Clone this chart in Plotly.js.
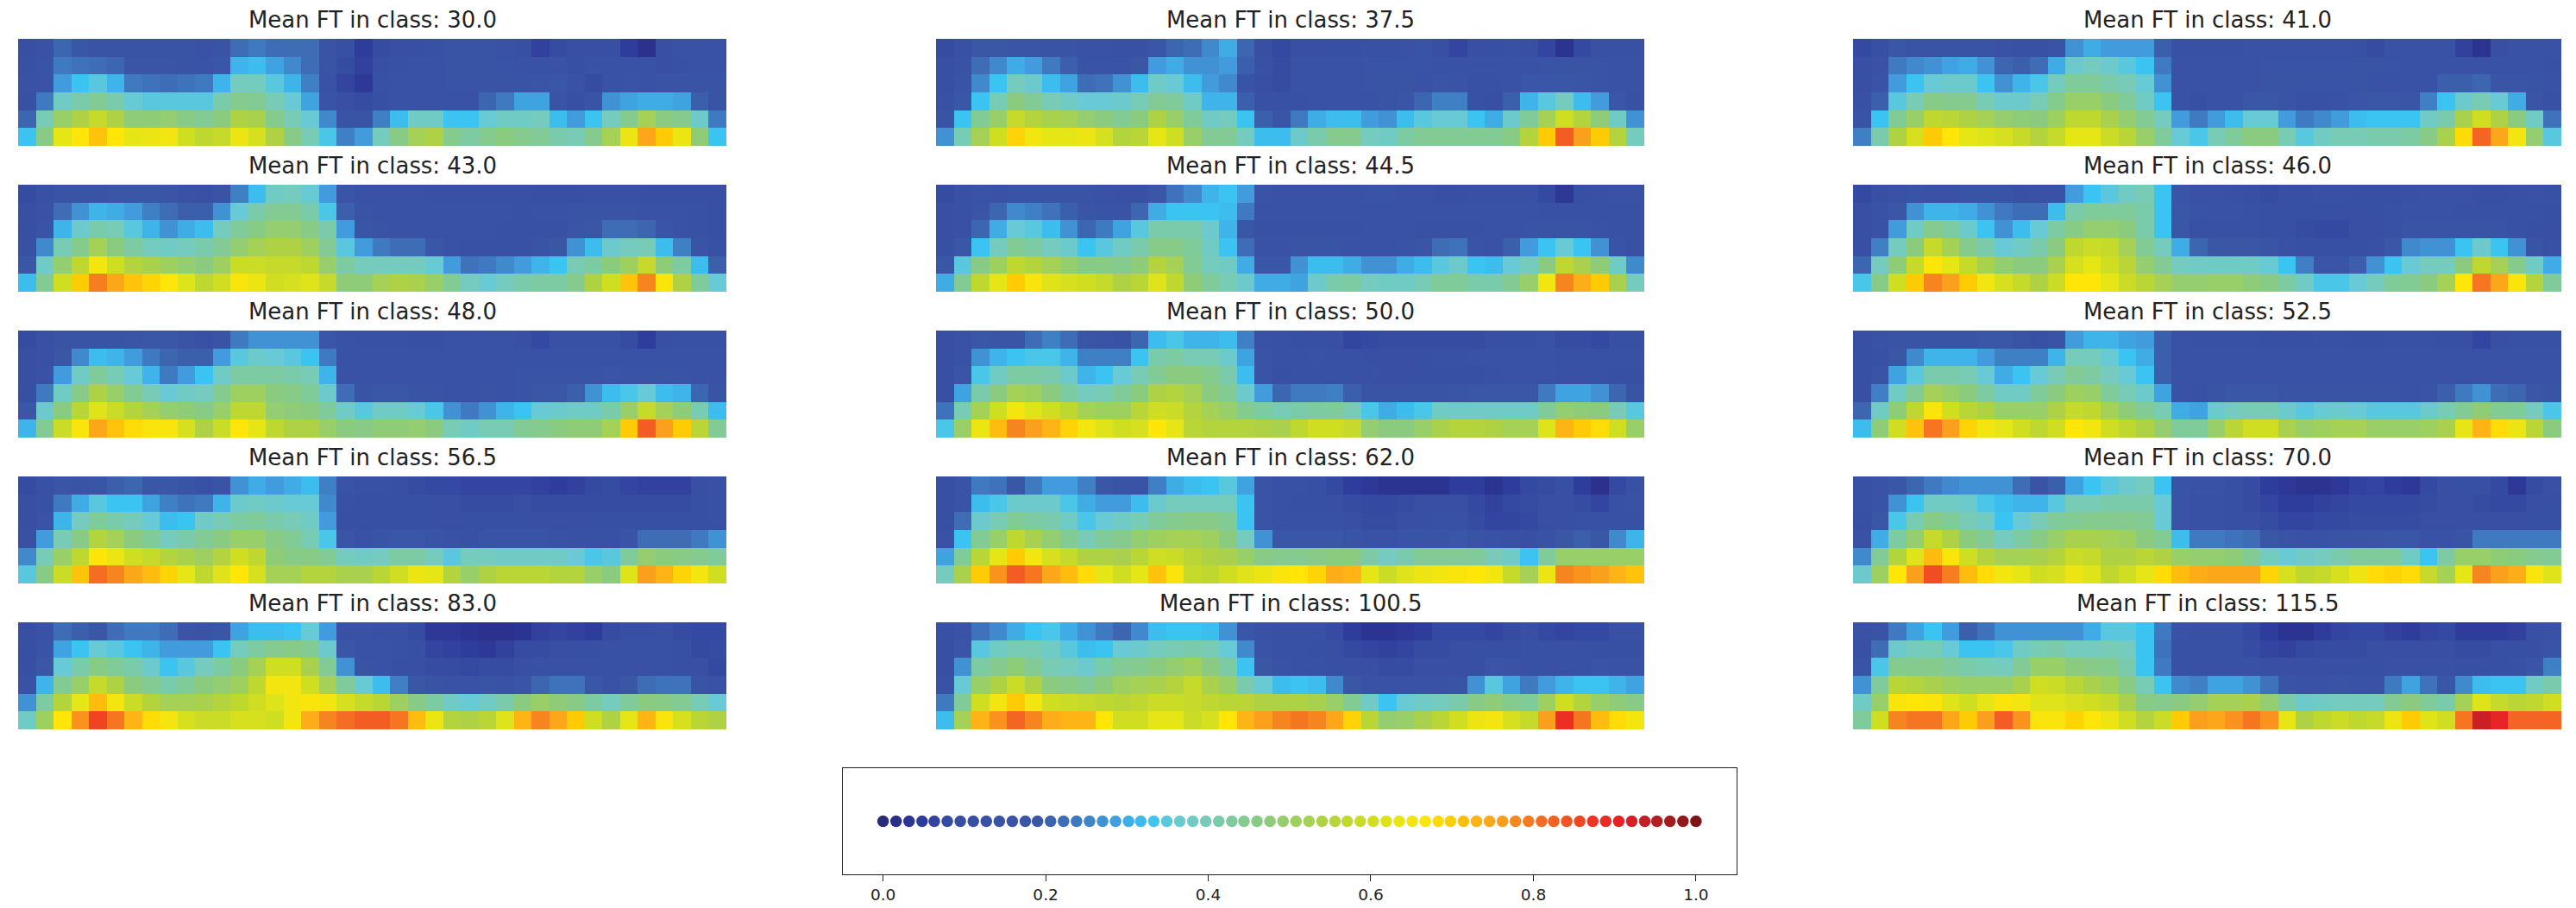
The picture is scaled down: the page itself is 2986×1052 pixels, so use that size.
<!DOCTYPE html>
<html><head><meta charset="utf-8">
<script src="https://cdn.plot.ly/plotly-3.0.1.min.js"></script>
<style>html,body{margin:0;padding:0;background:#fff}#chart{width:2986px;height:1052px}</style>
</head><body><div id="chart"></div>
<script>
const classLabels = ["30.0","37.5","41.0","43.0","44.5","46.0","48.0","50.0","52.5","56.5","62.0","70.0","83.0","100.5","115.5"];
const ft30 = [
[10,13,21,18,15,15,16,16,16,14,13,14,22,24,22,22,22,14,11,5,9,10,11,12,14,16,16,13,11,6,9,10,10,10,5,2,10,13,13,13],
[12,14,24,23,22,21,17,17,17,15,15,18,31,32,29,26,22,14,9,6,11,12,13,13,14,15,15,14,13,13,13,11,13,13,13,13,10,12,13,13],
[13,16,28,33,35,31,24,23,22,23,24,31,39,39,35,31,25,13,7,4,12,13,13,13,14,14,14,14,16,17,18,13,9,13,15,13,14,14,14,14],
[12,24,38,41,44,41,36,35,35,35,35,41,45,44,40,36,29,15,10,9,11,13,13,13,13,13,21,24,29,29,14,11,15,27,29,30,30,29,20,14],
[21,40,50,54,58,54,48,48,49,46,44,47,54,53,45,40,36,26,14,14,25,32,38,38,33,33,36,38,38,39,32,28,33,39,45,52,47,45,37,24],
[33,46,63,67,71,67,63,64,65,60,57,58,64,61,54,46,40,34,25,28,39,46,52,54,45,42,45,47,45,44,41,40,45,52,64,75,70,64,48,33]];
const ft37_5 = [
[9,12,19,19,17,17,16,15,13,13,12,12,18,21,22,26,30,21,10,8,10,10,11,11,12,12,13,14,10,7,10,11,12,10,7,3,8,12,12,12],
[11,13,22,26,30,28,24,20,16,16,16,19,28,30,27,27,28,20,12,9,13,13,13,13,14,15,15,14,13,13,13,13,13,13,14,14,14,14,13,13],
[11,14,26,33,39,37,32,29,22,23,27,32,38,36,32,28,26,15,11,9,13,13,13,13,14,14,14,13,17,15,12,12,13,18,18,18,17,15,13,13],
[12,19,33,40,47,44,40,38,36,36,37,40,44,43,38,31,31,20,12,12,12,13,13,13,13,14,17,21,25,25,12,11,20,31,35,39,32,28,18,12],
[16,33,44,50,58,55,53,52,49,47,44,47,54,50,43,38,39,33,20,17,24,30,32,32,28,27,32,35,36,36,33,30,37,43,52,60,55,48,38,27],
[27,40,52,60,69,65,63,63,64,61,55,56,63,60,50,44,44,39,32,32,37,41,45,45,39,38,42,44,44,44,44,44,46,55,70,83,76,70,55,39]];
const ft41 = [
[8,11,18,16,15,14,16,15,13,12,12,14,27,30,28,28,28,20,12,12,12,12,13,13,13,13,13,13,12,9,13,13,13,13,6,3,10,13,13,13],
[10,13,24,26,27,29,30,27,21,20,22,30,37,39,37,35,33,24,13,13,13,13,13,14,14,14,14,14,14,14,14,13,13,13,13,13,13,13,13,12],
[11,14,28,33,36,37,37,33,27,31,34,39,43,43,41,40,36,27,13,13,13,13,13,14,14,14,14,14,14,13,13,13,13,20,20,21,17,17,14,13],
[12,20,35,40,46,45,45,40,37,37,40,45,50,50,47,43,38,33,13,11,13,13,18,18,14,12,12,13,17,19,18,17,25,33,37,40,36,30,17,12],
[15,33,44,50,57,56,54,52,49,48,47,51,57,57,53,49,44,39,28,24,28,32,36,36,28,24,26,28,32,33,33,33,38,41,53,60,54,47,38,23],
[25,41,54,61,70,67,63,62,61,58,55,58,63,63,59,56,50,43,36,34,40,43,47,47,40,35,38,40,40,41,41,42,46,53,68,82,75,65,49,35]];
const ft43 = [
[9,12,15,15,16,18,18,18,17,13,12,14,25,32,38,39,36,28,17,13,13,13,13,12,12,12,12,12,12,11,11,11,12,12,12,11,11,11,11,10],
[10,13,22,27,31,30,28,25,22,20,20,27,36,41,44,44,41,34,20,14,13,13,13,13,13,13,13,13,12,13,13,15,14,14,14,13,13,13,12,11],
[11,15,31,37,41,40,35,31,27,30,32,39,43,46,49,49,46,41,28,17,14,13,13,13,13,13,13,12,12,12,12,17,19,22,22,21,17,13,12,11],
[12,26,40,45,52,47,42,39,38,39,41,44,49,52,54,54,51,44,35,28,24,22,22,18,13,12,12,12,12,14,19,27,32,37,39,40,32,25,14,12],
[19,38,49,57,65,60,55,53,51,49,47,51,59,59,58,58,57,50,42,39,39,39,39,36,28,23,24,26,28,31,33,40,42,47,51,58,48,42,32,20],
[32,44,60,70,79,75,71,69,67,62,57,60,66,64,60,61,62,58,48,48,52,54,53,50,44,39,36,39,41,42,42,45,54,60,71,78,66,54,43,36]];
const ft44_5 = [
[9,12,14,13,15,15,15,15,15,13,12,12,18,23,26,31,33,28,14,13,13,13,13,13,14,14,13,13,10,10,12,12,12,12,8,4,11,12,13,13],
[10,12,17,21,26,25,23,20,17,15,15,21,30,33,33,33,32,24,13,13,13,13,13,13,13,13,13,13,13,13,13,13,13,13,12,12,12,12,12,12],
[10,12,21,30,36,35,32,27,21,24,29,35,41,41,41,37,31,19,12,12,12,12,12,12,13,13,13,12,12,12,12,13,13,15,16,16,15,13,12,12],
[11,19,33,39,44,42,39,37,33,35,38,41,46,46,43,38,33,22,13,13,14,15,15,13,13,13,14,17,22,23,15,13,20,28,33,36,33,27,15,12],
[18,35,46,51,57,55,52,49,46,46,45,48,55,52,44,39,38,30,19,18,27,32,32,30,27,27,30,32,35,37,33,32,36,39,47,57,53,48,38,26],
[30,44,57,63,70,66,62,61,60,58,54,56,62,57,48,43,40,37,30,30,29,37,41,42,39,38,38,40,43,43,41,41,44,50,65,78,74,70,53,39]];
const ft46 = [
[8,11,13,14,13,13,15,15,16,12,13,13,28,33,35,38,40,33,17,13,13,12,11,9,10,11,12,12,11,11,11,12,13,13,13,10,11,12,13,12],
[10,13,19,27,31,31,30,27,24,22,22,32,41,43,43,43,41,33,18,14,13,13,12,11,11,11,11,10,10,11,12,13,13,13,12,12,12,12,12,11],
[10,13,28,38,45,42,37,33,27,32,36,42,46,49,49,47,41,33,19,12,12,12,12,11,11,9,8,8,10,10,12,15,16,16,16,15,14,12,11,10],
[11,25,39,47,58,52,45,41,36,38,41,47,57,59,58,52,44,39,30,21,19,19,19,16,12,11,11,11,11,12,18,26,27,27,33,37,33,27,15,12],
[21,39,48,58,67,63,58,53,49,47,47,53,61,63,60,56,49,44,39,38,38,38,38,36,33,25,17,17,20,27,33,36,39,39,47,57,52,45,38,30],
[34,46,60,70,78,76,70,65,61,58,54,59,67,67,63,59,56,52,49,49,50,50,48,46,42,38,34,34,36,39,43,44,47,52,67,80,75,66,55,43]];
const ft48 = [
[9,12,14,14,14,16,17,18,18,14,12,14,24,27,27,27,27,18,13,12,12,12,11,11,13,13,13,13,10,8,12,12,12,12,9,5,10,12,12,12],
[10,12,19,26,32,31,28,24,21,20,20,28,35,37,36,35,33,24,13,13,13,13,13,13,13,13,13,13,13,13,13,13,13,13,13,13,13,13,13,13],
[10,13,28,38,43,40,36,31,24,28,33,38,42,42,42,41,40,31,13,13,13,13,13,13,13,13,13,13,14,14,14,14,16,17,16,15,15,14,13,13],
[11,24,38,46,54,50,44,40,36,38,39,45,51,51,47,46,43,37,22,15,18,18,16,14,13,13,14,13,16,19,18,20,27,32,34,36,32,31,21,14],
[18,37,47,56,62,59,55,52,49,48,46,50,57,57,49,48,47,43,38,35,38,38,36,34,27,24,27,31,33,36,37,38,38,41,50,58,52,48,40,32],
[31,44,59,66,75,71,68,66,66,61,54,59,67,63,57,54,54,50,47,46,48,48,49,47,40,38,40,40,44,45,47,48,48,52,70,83,76,70,56,44]];
const ft50 = [
[10,13,18,17,17,22,25,22,17,16,13,21,32,34,31,31,32,25,13,12,11,11,10,7,8,9,9,9,9,9,9,10,11,11,13,9,9,8,11,11],
[10,13,27,31,33,34,34,31,25,25,25,33,41,42,40,40,37,29,14,12,12,13,12,12,11,10,10,11,12,12,13,13,13,13,13,12,12,12,12,12],
[11,17,34,38,42,42,41,37,31,33,36,40,44,47,47,45,41,32,16,11,12,12,12,12,12,10,10,11,11,11,11,12,13,13,13,12,12,12,11,11],
[11,29,41,47,52,51,47,42,39,40,43,47,54,55,52,47,44,37,28,21,24,24,25,20,14,14,14,14,15,17,18,18,18,18,24,29,29,27,21,15],
[23,40,52,60,65,62,60,57,52,51,51,56,60,59,55,52,50,45,42,40,41,42,43,40,34,30,32,34,38,38,38,38,38,38,43,49,48,47,40,35],
[34,50,64,72,78,76,73,69,65,62,60,61,67,63,56,55,55,55,54,53,57,60,60,58,49,47,47,50,53,55,55,54,52,52,62,73,70,68,60,50]];
const ft52_5 = [
[10,13,14,15,15,15,15,18,18,14,12,15,28,31,31,29,28,20,13,12,12,12,12,11,11,11,12,12,11,11,12,12,12,11,10,7,10,12,12,12],
[11,12,19,26,31,31,31,28,25,25,25,31,39,39,36,33,30,20,13,13,13,13,13,13,13,13,13,13,13,13,13,13,13,13,13,13,13,13,13,13],
[11,14,29,35,41,41,40,36,30,33,36,40,44,42,39,36,33,20,13,13,13,13,13,13,13,13,13,13,13,13,13,13,13,13,13,13,13,13,13,13],
[11,25,38,44,52,50,47,42,38,38,43,47,51,50,43,40,37,29,13,12,15,18,18,18,16,15,14,15,15,14,14,13,15,20,24,27,22,21,18,15],
[21,38,48,57,66,60,56,54,50,50,50,54,58,57,52,48,44,40,30,29,37,39,40,40,37,35,36,37,36,35,35,35,37,40,44,48,44,43,39,34],
[32,48,60,71,80,76,69,65,63,60,57,60,67,65,60,57,54,49,43,43,50,56,60,60,53,50,51,52,52,50,50,50,51,53,63,73,68,64,56,47]];
const ft56_5 = [
[9,12,17,16,17,20,21,19,18,14,12,16,27,30,28,30,32,25,14,12,12,11,9,8,8,7,7,7,7,6,5,6,8,9,7,6,6,6,10,12],
[10,12,24,30,35,33,33,29,25,23,24,31,37,38,37,36,36,26,12,11,11,11,11,10,10,9,9,9,10,9,9,9,9,9,9,9,9,9,11,12],
[10,15,31,39,43,41,39,36,32,33,38,40,42,43,41,40,38,28,11,11,11,11,11,10,10,11,11,11,11,10,10,10,11,11,11,11,11,11,11,12],
[12,28,40,46,55,52,47,43,39,41,44,47,50,50,46,44,40,34,17,13,15,18,18,15,13,12,15,14,14,15,13,12,12,12,14,22,22,22,24,27],
[26,40,50,57,67,64,60,58,55,53,51,55,60,57,48,46,46,44,39,38,39,42,42,39,35,39,39,38,38,38,38,36,34,35,43,49,47,46,45,43],
[35,46,59,71,81,78,75,72,69,63,57,62,67,61,52,52,55,55,53,53,56,60,64,63,55,50,54,56,56,56,55,55,50,47,62,76,73,69,65,60]];
const ft62 = [
[11,14,24,23,19,24,28,28,25,19,14,14,25,30,32,33,35,29,14,12,12,11,8,5,4,3,3,3,3,5,5,3,5,8,9,11,5,2,8,12],
[11,16,32,34,37,37,37,34,30,28,28,32,37,39,39,39,39,33,14,12,11,11,10,9,8,8,9,10,10,10,8,6,8,9,10,10,9,7,12,13],
[11,22,37,40,44,42,41,38,34,36,38,40,43,45,46,46,44,33,14,12,12,12,12,10,9,9,10,11,12,12,9,7,7,8,10,11,12,12,12,12],
[13,33,44,50,57,53,49,44,40,43,45,49,51,52,52,51,47,39,27,18,18,18,18,16,13,13,14,15,16,18,14,13,12,11,13,19,20,19,26,31],
[29,43,56,63,70,65,61,58,54,54,53,56,60,59,56,54,53,50,46,45,45,46,47,47,42,39,41,44,44,44,43,40,38,33,43,50,50,50,50,50],
[39,53,70,77,83,80,75,72,68,63,60,63,71,66,58,57,60,62,64,66,67,69,74,73,63,59,62,64,65,66,67,65,58,52,64,78,77,76,73,71]];
const ft70 = [
[12,14,18,21,24,26,27,27,27,22,15,20,29,33,35,37,39,33,16,13,13,11,9,5,4,3,3,4,6,7,5,4,8,10,11,11,8,4,9,12],
[12,15,27,33,38,38,37,34,32,31,31,35,40,40,41,41,41,36,15,12,12,11,9,7,5,5,6,7,8,8,8,8,9,10,10,9,8,8,10,11],
[11,19,34,40,46,43,40,38,33,36,40,43,44,45,45,45,44,36,15,12,12,11,10,9,7,7,8,8,9,9,9,9,10,10,10,10,10,10,11,11],
[13,30,42,49,58,54,47,44,39,42,46,50,53,53,52,51,47,44,32,24,24,23,22,19,15,13,13,15,15,17,18,18,13,13,16,24,24,24,24,24],
[26,44,55,62,72,66,60,55,52,52,53,55,59,58,54,54,56,54,50,49,49,48,44,39,36,38,39,41,43,43,43,38,33,42,50,50,48,47,45,44],
[37,51,67,76,85,79,72,68,65,63,60,61,64,62,57,60,63,68,72,74,75,75,75,69,61,57,58,61,64,68,69,68,58,52,63,78,76,74,66,62]];
const ft83 = [
[10,13,22,20,19,22,24,24,22,17,14,19,29,32,32,33,36,28,13,13,12,12,9,4,4,3,2,2,3,6,7,6,5,9,11,11,12,9,8,8],
[11,14,29,33,36,35,33,31,28,28,28,33,39,42,45,46,44,37,18,13,13,12,11,7,6,5,4,6,9,9,10,10,11,12,12,12,12,11,8,9],
[11,19,36,41,46,43,41,37,33,35,39,42,47,52,60,60,53,44,27,16,13,11,10,9,9,8,9,9,10,12,12,12,12,12,12,12,12,11,10,8],
[13,31,44,50,58,54,47,44,41,43,47,49,51,57,65,65,60,52,43,36,32,25,19,14,13,13,14,13,17,21,23,23,18,13,19,22,23,23,15,13],
[27,42,55,63,72,65,59,55,52,52,53,55,57,60,62,65,66,65,61,58,56,51,46,42,38,36,38,41,47,50,48,46,42,39,43,47,46,44,40,36],
[38,51,67,77,86,80,73,68,65,61,59,59,61,61,60,65,74,78,81,83,83,80,72,64,55,54,56,62,73,78,75,70,60,54,63,73,66,61,56,54]];
const ft100_5 = [
[12,14,23,26,30,33,34,30,27,24,21,26,32,33,33,32,27,18,13,12,12,12,9,5,3,3,4,5,8,8,8,7,9,10,8,7,8,8,12,12],
[11,17,35,38,40,40,38,35,32,33,36,37,39,40,41,40,36,26,14,12,12,11,10,8,7,6,7,9,9,10,11,11,11,12,12,12,12,11,11,11],
[11,27,42,45,48,44,40,39,37,41,44,45,47,49,51,47,42,33,19,13,12,12,11,10,10,9,9,10,10,10,11,17,14,12,12,12,12,14,13,13],
[13,36,50,54,59,54,47,46,44,47,51,52,53,55,58,53,50,41,36,32,33,32,26,19,13,13,13,13,13,14,27,35,29,24,28,31,33,33,31,29],
[24,43,60,65,70,65,60,59,58,57,56,57,59,59,58,57,56,56,54,54,54,53,50,44,38,33,36,38,39,41,46,48,45,43,51,60,55,50,48,46],
[32,52,73,77,82,78,74,73,73,67,60,60,63,63,59,61,67,73,76,78,80,78,75,69,56,49,50,53,56,60,64,65,61,58,76,88,80,72,68,65]];
const ft115_5 = [
[13,14,24,29,33,28,20,23,27,27,27,27,27,30,35,35,33,24,13,12,12,12,8,5,3,3,5,7,8,8,6,5,7,8,5,5,5,6,12,13],
[12,22,37,39,40,36,33,33,34,38,40,41,39,39,40,39,33,23,12,12,12,12,9,7,6,8,9,9,9,10,10,10,10,10,9,9,10,11,10,15],
[15,34,45,45,45,43,41,40,39,44,50,50,47,46,45,41,33,24,12,12,12,12,12,10,10,10,10,10,11,11,12,12,12,12,11,11,11,12,17,25],
[27,43,56,55,53,51,50,50,50,53,60,59,56,53,51,46,40,33,26,25,29,29,27,23,15,13,13,14,13,13,24,29,23,18,26,32,33,33,38,41],
[38,50,66,67,66,62,60,63,66,65,62,62,61,60,58,53,46,45,47,49,52,52,53,49,41,37,38,39,39,39,44,47,43,41,52,62,58,56,57,60],
[43,60,78,80,80,75,70,76,83,77,66,66,69,67,64,60,55,59,70,76,75,77,80,77,63,54,57,59,57,58,64,70,62,60,80,93,90,82,82,82]];
const panelGrids = [ft30,ft37_5,ft41,ft43,ft44_5,ft46,ft48,ft50,ft52_5,ft56_5,ft62,ft70,ft83,ft100_5,ft115_5];
const keyDots = [0,0.016,0.032,0.048,0.063,0.079,0.095,0.111,0.127,0.143,0.159,0.175,0.19,0.206,0.222,0.238,0.254,0.27,0.286,0.302,0.317,0.333,0.349,0.365,0.381,0.397,0.413,0.429,0.444,0.46,0.476,0.492,0.508,0.524,0.54,0.556,0.571,0.587,0.603,0.619,0.635,0.651,0.667,0.683,0.698,0.714,0.73,0.746,0.762,0.778,0.794,0.81,0.825,0.841,0.857,0.873,0.889,0.905,0.921,0.937,0.952,0.968,0.984,1];
const keyTicks = [0,0.2,0.4,0.6,0.8,1];
const cmap = [[0,'#2a2a7a'],[0.016,'#2b2f8a'],[0.032,'#2c3593'],[0.048,'#2d3b9a'],[0.063,'#33439f'],[0.08,'#3449a2'],[0.1,'#384fa4'],[0.19,'#3a57a6'],[0.21,'#3d66b0'],[0.23,'#3e72ba'],[0.25,'#3f80c4'],[0.28,'#419bdc'],[0.31,'#3eb4ea'],[0.33,'#3bc4f2'],[0.36,'#68cad5'],[0.39,'#75cbbd'],[0.43,'#7fcb9a'],[0.47,'#8bcb80'],[0.5,'#98cf68'],[0.54,'#afd244'],[0.57,'#bfd82f'],[0.6,'#d0de22'],[0.63,'#e6e516'],[0.67,'#ffe508'],[0.7,'#ffcb05'],[0.73,'#fdb414'],[0.76,'#faa01c'],[0.78,'#f7851f'],[0.82,'#f46523'],[0.85,'#f04d23'],[0.88,'#ee2e25'],[0.91,'#e41f27'],[0.94,'#bf1f26'],[0.97,'#a01c1f'],[1,'#7f1416']];

const W=2986,H=1052;
const colL=[21,1085,2148], panelW=821, rowT=[45,214,383,552,721], panelH=124;
const traces=[], layout={width:W,height:H,margin:{l:0,r:0,t:0,b:0},paper_bgcolor:'#fff',plot_bgcolor:'#fff',showlegend:false,annotations:[],font:{family:'DejaVu Sans',color:'#262626'}};
panelGrids.forEach((g,i)=>{
  const n=i+1,c=i%3,r=Math.floor(i/3);
  traces.push({type:'heatmap',z:g.map(row=>row.map(v=>v/100)),zmin:0,zmax:1,colorscale:cmap,showscale:false,hoverinfo:'skip',xaxis:'x'+n,yaxis:'y'+n});
  const d0=[colL[c]/W,(colL[c]+panelW)/W], d1=[1-(rowT[r]+panelH)/H,1-rowT[r]/H];
  layout['xaxis'+n]={domain:d0,anchor:'y'+n,range:[-0.5,39.5],visible:false};
  layout['yaxis'+n]={domain:d1,anchor:'x'+n,range:[5.5,-0.5],visible:false};
  layout.annotations.push({xref:'paper',yref:'paper',x:(colL[c]+panelW/2)/W,y:1-(rowT[r]-5)/H,xanchor:'center',yanchor:'bottom',showarrow:false,text:'Mean FT in class: '+classLabels[i],font:{family:'DejaVu Sans',size:25.9,color:'#222222'}});
});
traces.push({type:'scatter',mode:'markers',x:keyDots,y:keyDots.map(()=>0),marker:{size:13.5,color:keyDots,colorscale:cmap,cmin:0,cmax:1,line:{width:0}},hoverinfo:'skip',xaxis:'x16',yaxis:'y16'});
layout.xaxis16={domain:[976.5/W,2013/W],anchor:'y16',range:[-0.05,1.05],tickvals:keyTicks,ticktext:keyTicks.map(v=>v.toFixed(1)),ticks:'outside',ticklen:7,tickwidth:1,tickcolor:'#222',tickfont:{size:18.5,color:'#222222'},showgrid:false,zeroline:false,showline:true,mirror:true,linecolor:'#222',linewidth:1};
layout.yaxis16={domain:[1-1013/H,1-890/H],anchor:'x16',range:[-1,1],showticklabels:false,ticks:'',showgrid:false,zeroline:false,showline:true,mirror:true,linecolor:'#222',linewidth:1};
Plotly.newPlot('chart',traces,layout,{staticPlot:true,displayModeBar:false});
</script></body></html>
